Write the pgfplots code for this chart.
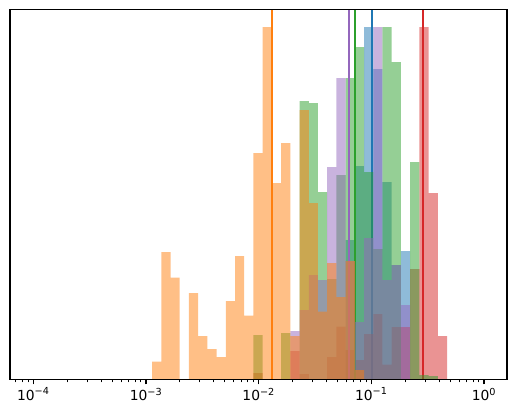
\documentclass[border=0pt]{standalone}
\usepackage{fontspec}
\setmainfont{DejaVu Sans}
\usepackage{pgfplots}
\pgfplotsset{compat=1.18}
\definecolor{tblue}{HTML}{1F77B4}
\definecolor{torange}{HTML}{FF7F0E}
\definecolor{tgreen}{HTML}{2CA02C}
\definecolor{tred}{HTML}{D62728}
\definecolor{tpurple}{HTML}{9467BD}
\begin{document}
\begin{tikzpicture}
\begin{axis}[
  scale only axis, width=497bp, height=370bp,
  xmode=log, xmin=6.21e-5, xmax=1.60, ymin=0, ymax=370.1,
  ytick=\empty,
  xtick={1e-4,1e-3,1e-2,1e-1,1},
  xticklabels={10\textsuperscript{−4},10\textsuperscript{−3},10\textsuperscript{−2},10\textsuperscript{−1},10\textsuperscript{0}},
  minor xtick={7e-5,8e-5,9e-5,2e-4,3e-4,4e-4,5e-4,6e-4,7e-4,8e-4,9e-4,2e-3,3e-3,4e-3,5e-3,6e-3,7e-3,8e-3,9e-3,2e-2,3e-2,4e-2,5e-2,6e-2,7e-2,8e-2,9e-2,0.2,0.3,0.4,0.5,0.6,0.7,0.8,0.9},
  xtick pos=left, tick align=outside,
  axis line style={line width=1.11bp},
  major tick length=4.9bp, minor tick length=2.8bp,
  every major tick/.style={line width=1.11bp, black},
  every minor tick/.style={line width=0.83bp, black},
  ticklabel style={font=\fontsize{13.9}{16}\selectfont},
  axis on top,
]
% blue
\addplot[ybar interval, fill=tblue, fill opacity=0.5, draw=none] coordinates {
(5.9128e-2,139.5) (7.1384e-2,213.5) (8.6177e-2,352.5) (0.10404,310.5) (0.12560,197.5) (0.15164,114.5) (0.18305,128.5) (0.22100,0)};
\addplot[color=tblue, line width=2.08bp] coordinates {(0.10144,0) (0.10144,370.1)};
% red
\addplot[ybar interval, fill=tred, fill opacity=0.5, draw=none] coordinates {
(8.9913e-3,6.5) (1.0854e-2,0) (1.3105e-2,0) (1.5820e-2,0) (1.9099e-2,28.5) (2.3057e-2,5.5) (2.7836e-2,0) (3.3605e-2,0) (4.0570e-2,22.5) (4.8978e-2,53) (5.9128e-2,29.5) (7.1384e-2,19.5) (8.6177e-2,45.5) (0.10404,65.5) (0.12560,15) (0.15164,52.5) (0.18305,52.5) (0.22100,110.5) (0.26680,352.5) (0.32211,186.5) (0.38884,43.5) (0.46945,0)};
\addplot[color=tred, line width=2.08bp] coordinates {(0.2875,0) (0.2875,370.1)};
% green
\addplot[ybar interval, fill=tgreen, fill opacity=0.5, draw=none] coordinates {
(8.9913e-3,44.5) (1.0854e-2,0) (1.3105e-2,0) (1.5820e-2,46.5) (1.9099e-2,0) (2.3057e-2,278.5) (2.7836e-2,276.5) (3.3605e-2,187.5) (4.0570e-2,100.5) (4.8978e-2,204.5) (5.9128e-2,301.5) (7.1384e-2,332.5) (8.6177e-2,207.5) (0.10404,130.5) (0.12560,352.5) (0.15164,317.5) (0.18305,0) (0.22100,217.5) (0.26680,4.5) (0.32211,3.5) (0.38884,0)};
\addplot[color=tgreen, line width=2.08bp] coordinates {(0.07166,0) (0.07166,370.1)};
% purple
\addplot[ybar interval, fill=tpurple, fill opacity=0.5, draw=none] coordinates {
(1.9099e-2,48.5) (2.3057e-2,69.5) (2.7836e-2,104.5) (3.3605e-2,99.5) (4.0570e-2,212.5) (4.8978e-2,301.5) (5.9128e-2,118.5) (7.1384e-2,57.5) (8.6177e-2,141.5) (0.10404,352.5) (0.12560,99.5) (0.15164,114.5) (0.18305,74.5) (0.22100,0)};
\addplot[color=tpurple, line width=2.08bp] coordinates {(0.06339,0) (0.06339,370.1)};
% orange
\addplot[ybar interval, fill=torange, fill opacity=0.5, draw=none] coordinates {
(1.1324e-3,17.8) (1.3672e-3,127.5) (1.6508e-3,101.8) (1.9926e-3,0) (2.4055e-3,86.5) (2.9040e-3,43.5) (3.5056e-3,30.5) (4.2324e-3,22.5) (5.1098e-3,78.5) (6.1688e-3,123.5) (7.4473e-3,63.8) (8.9913e-3,226.5) (1.0854e-2,352.5) (1.3105e-2,196.5) (1.5820e-2,236.5) (1.9099e-2,43.5) (2.3057e-2,269.5) (2.7836e-2,176.5) (3.3605e-2,67.8) (4.0570e-2,116.5) (4.8978e-2,82.5) (5.9128e-2,118.5) (7.1384e-2,9.5) (8.6177e-2,0)};
\addplot[color=torange, line width=2.08bp] coordinates {(0.013149,0) (0.013149,370.1)};
\end{axis}
\path ([xshift=-10bp,yshift=-37.5bp]current axis.south west) rectangle ([xshift=8bp,yshift=9.5bp]current axis.north east);
\end{tikzpicture}
\end{document}
